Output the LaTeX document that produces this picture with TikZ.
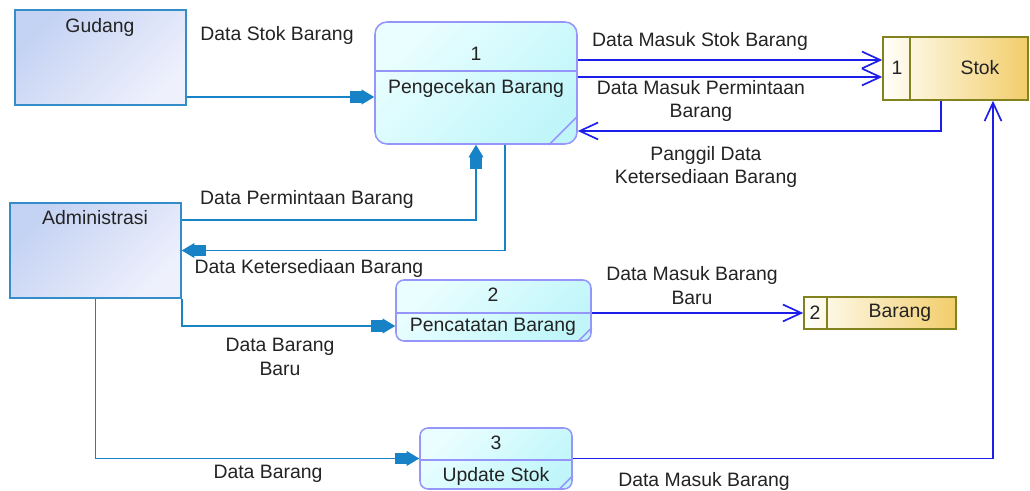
\documentclass[tikz,border=0pt]{standalone}
\usepackage{fontspec}
\setmainfont{Liberation Sans}
\usetikzlibrary{arrows.meta, positioning, calc}

\definecolor{garisEnt}{RGB}{52,140,200}
\definecolor{isiEntA}{RGB}{196,210,243}
\definecolor{isiEntB}{RGB}{238,240,252}
\definecolor{garisProc}{RGB}{150,150,250}
\definecolor{isiProcA}{RGB}{234,254,255}
\definecolor{isiProcB}{RGB}{192,246,250}
\definecolor{garisStore}{RGB}{130,130,30}
\definecolor{isiStoreA}{RGB}{255,255,250}
\definecolor{isiStoreB}{RGB}{242,205,106}
\definecolor{alirBiru}{RGB}{24,130,198}
\definecolor{alirUngu}{RGB}{30,30,235}
\definecolor{teks}{RGB}{35,35,35}

\begin{document}
\begin{tikzpicture}[
  font=\fontsize{13.8}{17}\selectfont,
  entitas/.style={draw=garisEnt, line width=1.1pt, left color=isiEntA, right color=isiEntB, shading angle=45, minimum width=4.275cm, minimum height=2.375cm},
  proses/.style={draw=garisProc, line width=1.1pt, rounded corners=0.3cm, left color=isiProcA, right color=isiProcB, shading angle=45},
  simpan/.style={draw=garisStore, line width=1.1pt, left color=isiStoreA, right color=isiStoreB},
  garisProses/.style={garisProc, line width=1.1pt},
  garisSimpan/.style={garisStore, line width=1.1pt},
  alir/.style={alirBiru, line width=1.2pt, -{Rectangle[length=8pt,width=8pt,sep=0pt]Triangle[length=9pt,width=10.5pt]}},
  alirSimpan/.style={alirUngu, line width=1.2pt, -{Straight Barb[length=13pt,width=12pt]}},
  lbl/.style={align=center, text=teks}
]
\useasboundingbox (0,0) rectangle (25.75,12.275);

% Entitas luar
\node[entitas] (gudang) at (2.5125,10.8375) {};
\node[lbl] (gudangTxt) at (2.5,11.6) {Gudang};
\node[entitas] (admin) at (2.3875,6.0125) {};
\node[lbl] (adminTxt) at (2.375,6.825) {Administrasi};

% Proses
\node[proses, minimum width=5.05cm, minimum height=3.05cm] (pengecekan) at (11.9,10.2) {};
\draw[garisProses] (pengecekan.west |- 0,10.5) -- (pengecekan.east |- 0,10.5);
\draw[garisProses] ([xshift=-0.72cm]pengecekan.south east) -- ([yshift=0.72cm]pengecekan.south east);
\node[lbl] (pengecekanNo) at (11.9,10.925) {1};
\node[lbl] (pengecekanTxt) at (11.9,10.075) {Pengecekan Barang};

\node[proses, rounded corners=0.2cm, minimum width=4.875cm, minimum height=1.525cm] (pencatatan) at (12.3375,4.5125) {};
\draw[garisProses] (pencatatan.west |- 0,4.45) -- (pencatatan.east |- 0,4.45);
\draw[garisProses] ([xshift=-0.35cm]pencatatan.south east) -- ([yshift=0.35cm]pencatatan.south east);
\node[lbl] (pencatatanNo) at (12.325,4.9) {2};
\node[lbl] (pencatatanTxt) at (12.325,4.1) {Pencatatan Barang};

\node[proses, rounded corners=0.2cm, minimum width=3.8cm, minimum height=1.525cm] (updateStok) at (12.4,0.8125) {};
\draw[garisProses] (updateStok.west |- 0,0.775) -- (updateStok.east |- 0,0.775);
\draw[garisProses] ([xshift=-0.35cm]updateStok.south east) -- ([yshift=0.35cm]updateStok.south east);
\node[lbl] (updateNo) at (12.4,1.2) {3};
\node[lbl] (updateTxt) at (12.4,0.375) {Update Stok};

% Data store
\node[simpan, minimum width=3.625cm, minimum height=1.575cm] (stok) at (23.8875,10.5625) {};
\draw[garisSimpan] (22.75,0 |- stok.north) -- (22.75,0 |- stok.south);
\node[lbl] (stokNo) at (22.425,10.575) {1};
\node[lbl] (stokTxt) at (24.5,10.575) {Stok};

\node[simpan, minimum width=3.8cm, minimum height=0.8cm] (barang) at (22.0,4.45) {};
\draw[garisSimpan] (20.675,0 |- barang.north) -- (20.675,0 |- barang.south);
\node[lbl] (barangNo) at (20.375,4.45) {2};
\node[lbl] (barangTxt) at (22.5,4.45) {Barang};

% Aliran data
\draw[alir] ([yshift=-0.9875cm]gudang.east) -- ([yshift=-0.9875cm]gudang.east -| pengecekan.west);
\draw[alirSimpan] ([yshift=0.575cm]pengecekan.east) -- ([yshift=0.575cm]pengecekan.east -| stok.west);
\draw[alirSimpan] ([yshift=0.15cm]pengecekan.east) -- ([yshift=0.15cm]pengecekan.east -| stok.west);
\draw[alirSimpan] ([xshift=-0.3625cm]stok.south) |- ([yshift=-1.2cm]pengecekan.east);
\draw[alir] ([yshift=0.7625cm]admin.east) -| (pengecekan.south);
\draw[alir] ([xshift=0.725cm]pengecekan.south) |- (admin.east);
\draw[alir] (admin.south east) |- ([yshift=-0.3875cm]pencatatan.west);
\draw[alirSimpan] (pencatatan.east |- barang.west) -- (barang.west);
\draw[alir] (admin.south) |- (updateStok.west);
\draw[alirSimpan] (updateStok.east) -| ([xshift=0.9375cm]stok.south);

% Label aliran
\node[lbl] (lblStokBarang) at (6.925,11.4) {Data Stok Barang};
\node[lbl] (lblMasukStok) at (17.5,11.25) {Data Masuk Stok Barang};
\node[lbl] (lblMasukPermintaan) at (17.525,9.75) {Data Masuk Permintaan\\Barang};
\node[lbl] (lblPanggil) at (17.65,8.1) {Panggil Data\\Ketersediaan Barang};
\node[lbl] (lblPermintaan) at (7.675,7.3) {Data Permintaan Barang};
\node[lbl] (lblKetersediaan) at (7.725,5.575) {Data Ketersediaan Barang};
\node[lbl] (lblBarangBaru) at (7.0,3.35) {Data Barang\\Baru};
\node[lbl] (lblMasukBaru) at (17.3,5.125) {Data Masuk Barang\\Baru};
\node[lbl] (lblDataBarang) at (6.7,0.425) {Data Barang};
\node[lbl] (lblMasukBarang) at (17.6,0.25) {Data Masuk Barang};

\end{tikzpicture}
\end{document}
